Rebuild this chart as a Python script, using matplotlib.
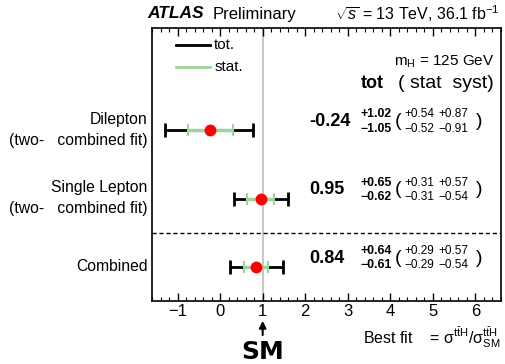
import matplotlib
matplotlib.use("Agg")
import matplotlib.pyplot as plt
import matplotlib.transforms as mtransforms

plt.rcParams['font.family'] = ['Liberation Sans', 'DejaVu Sans']
plt.rcParams['mathtext.fontset'] = 'custom'
plt.rcParams['mathtext.rm'] = 'Liberation Sans'
plt.rcParams['mathtext.it'] = 'Liberation Sans:italic'
plt.rcParams['mathtext.bf'] = 'Liberation Sans:bold'

# ---- data ----
labels = [["Dilepton", "(two-   combined fit)"],
          ["Single Lepton", "(two-   combined fit)"],
          ["Combined"]]
mu = [-0.24, 0.95, 0.84]
tot_up = [1.02, 0.65, 0.64]
tot_dn = [1.05, 0.62, 0.61]
stat_up = [0.54, 0.31, 0.29]
stat_dn = [0.52, 0.31, 0.29]
syst_up = [0.87, 0.57, 0.57]
syst_dn = [0.91, 0.54, 0.54]
rows = [2, 1, 0]
xticks = [-1, 0, 1, 2, 3, 4, 5, 6]

green = '#9fd49f'

fig = plt.figure(figsize=(5.05, 3.64), dpi=100)
ax = fig.add_axes([152 / 505, 1 - 301 / 364, 349 / 505, 273 / 364])
ax.set_xlim(-1.6, 6.6)
ax.set_ylim(-0.5, 3.5)

# SM line
ax.axvline(1, color='#c8c8c8', lw=1.5, zorder=1)
# separator
ax.axhline(0.5, color='black', lw=1.0, ls=(0, (3, 2)), zorder=1)

trans = mtransforms.blended_transform_factory(ax.transAxes, ax.transData)
for i, y in enumerate(rows):
    ax.errorbar([mu[i]], [y], xerr=[[tot_dn[i]], [tot_up[i]]], fmt='none',
                ecolor='black', elinewidth=2, capsize=5, capthick=2, zorder=2)
    ax.errorbar([mu[i]], [y], xerr=[[stat_dn[i]], [stat_up[i]]], fmt='none',
                ecolor=green, elinewidth=2.5, capsize=4, capthick=1.5, zorder=3)
    ax.plot([mu[i]], [y], 'o', color='red', ms=7.5, zorder=4)

    # numbers
    ty = y + 0.13
    ax.text(2.10, ty, f"{mu[i]:.2f}", fontsize=13, fontweight='bold',
            ha='left', va='center')
    ax.text(3.30, ty + 0.105, f"+{tot_up[i]:.2f}", fontsize=8.8, fontweight='bold',
            ha='left', va='center')
    ax.text(3.30, ty - 0.105, f"\u2212{tot_dn[i]:.2f}", fontsize=8.8, fontweight='bold',
            ha='left', va='center')
    ax.text(4.10, ty, "(", fontsize=14, ha='left', va='center')
    ax.text(4.33, ty + 0.105, f"+{stat_up[i]:.2f}", fontsize=8.5, ha='left', va='center')
    ax.text(4.33, ty - 0.105, f"\u2212{stat_dn[i]:.2f}", fontsize=8.5, ha='left', va='center')
    ax.text(5.13, ty + 0.105, f"+{syst_up[i]:.2f}", fontsize=8.5, ha='left', va='center')
    ax.text(5.13, ty - 0.105, f"\u2212{syst_dn[i]:.2f}", fontsize=8.5, ha='left', va='center')
    ax.text(6.02, ty, ")", fontsize=14, ha='left', va='center')

    # labels
    lab = labels[i]
    if len(lab) == 2:
        ax.text(-0.012, y + 0.16, lab[0], transform=trans, ha='right', va='center', fontsize=11.3)
        ax.text(-0.012, y - 0.15, lab[1], transform=trans, ha='right', va='center', fontsize=11.3)
    else:
        ax.text(-0.012, y, lab[0], transform=trans, ha='right', va='center', fontsize=11.3)

# legend (manual)
ax.plot([0.068, 0.165], [0.938, 0.938], color='black', lw=2, transform=ax.transAxes)
ax.plot([0.068, 0.165], [0.857, 0.857], color=green, lw=2, transform=ax.transAxes)
ax.text(0.178, 0.938, "tot.", transform=ax.transAxes, fontsize=11, va='center')
ax.text(0.178, 0.857, "stat.", transform=ax.transAxes, fontsize=11, va='center')

ax.text(0.98, 0.878, r"m$_\mathrm{H}$ = 125 GeV", transform=ax.transAxes, fontsize=11,
        ha='right', va='center')
ax.text(0.598, 0.795, "tot", transform=ax.transAxes, fontsize=13, fontweight='bold',
        ha='left', va='center')
ax.text(0.703, 0.795, "(", transform=ax.transAxes, fontsize=14,
        ha='left', va='center')
ax.text(0.98, 0.795, "stat  syst)", transform=ax.transAxes, fontsize=14,
        ha='right', va='center')

# axes styling
ax.set_xticks(xticks)
ax.set_xticklabels([f"{t}".replace('-', '\u2212') for t in xticks], fontsize=12)
ax.xaxis.set_minor_locator(matplotlib.ticker.MultipleLocator(0.2))
ax.tick_params(axis='x', which='both', direction='in', top=True, bottom=True)
ax.tick_params(axis='x', which='major', length=6, width=1, pad=2.5)
ax.tick_params(axis='x', which='minor', length=3, width=0.8)
ax.set_yticks([])
for s in ax.spines.values():
    s.set_linewidth(1.2)

# header
fig.text(147 / 505, 1 - 14 / 364, "ATLAS", fontsize=12.5, fontweight='bold', style='italic',
         ha='left', va='center')
fig.text(213 / 505, 1 - 14 / 364, "Preliminary", fontsize=12, ha='left', va='center')
fig.text(500 / 505, 1 - 14 / 364, r"$\sqrt{s}$ = 13 TeV, 36.1 fb$^{-1}$", fontsize=11.5,
         ha='right', va='center')

# x label
fig.text(500 / 505, 1 - 343 / 364,
         r"Best fit    = $\mathrm{\sigma^{t\bar{t}H}/\sigma^{t\bar{t}H}_{SM}}$",
         fontsize=11.5, ha='right', va='baseline')

# SM arrow
ax.annotate("", xy=(1, -0.75), xytext=(1, -1.04), xycoords='data', textcoords='data',
            annotation_clip=False,
            arrowprops=dict(arrowstyle='-|>', color='black', lw=1.5, mutation_scale=10))
ax.text(1, -1.24, "SM", fontsize=18, fontweight='bold', family='DejaVu Sans',
        ha='center', va='center', clip_on=False)

fig.savefig("out.png", dpi=100)
